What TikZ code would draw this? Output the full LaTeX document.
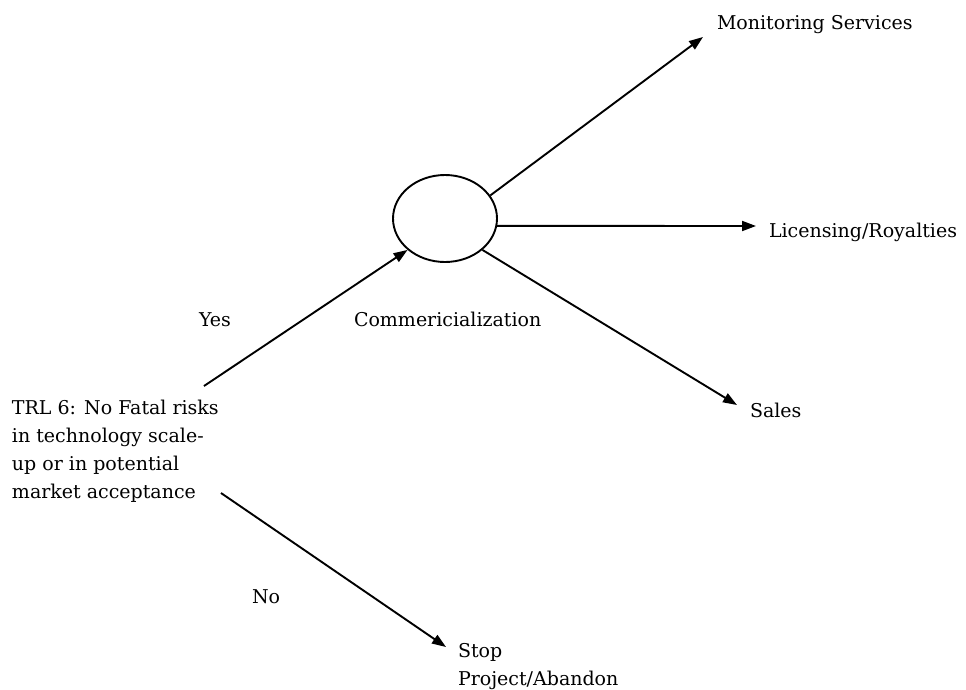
\documentclass[tikz,border=0pt]{standalone}
\usepackage{fontspec}
\setmainfont{DejaVu Serif}
\usetikzlibrary{arrows.meta,shapes.geometric}

\tikzset{
  label text/.style={anchor=base west, inner sep=0pt, outer sep=0pt, align=left,
    font=\fontsize{19}{27.7}\selectfont},
  conn/.style={line width=1.9pt, -{Triangle[length=14pt,width=10pt]}},
  decision/.style={ellipse, draw, line width=1.9pt, minimum width=104pt,
    minimum height=87pt, inner sep=0pt}
}

\begin{document}
\begin{tikzpicture}[x=1pt,y=-1pt]
  \useasboundingbox (0,0) rectangle (966,689);

  % decision node
  \node[decision] (c) at (445,218.5) {};

  % labels (multi-line labels are placed by the baseline of their last line)
  \node[label text] (mon)   at (717,29)  {Monitoring Services};
  \node[label text] (lic)   at (769,237) {Licensing/Royalties};
  \node[label text] (comm)  at (354,326) {Commericialization};
  \node[label text] (yes)   at (199,326) {Yes};
  \node[label text] (sales) at (750,417) {Sales};
  \node[label text] (trl)   at (12,498)  {TRL 6: No Fatal risks\\in technology scale-\\up or in potential\\market acceptance};
  \node[label text] (no)    at (252,603) {No};
  \node[label text] (stop)  at (458,685) {Stop\\Project/Abandon};

  % connector ends
  \coordinate (ys)    at (204,386);
  \coordinate (ns)    at (221,493);
  \coordinate (montip) at (703,37);
  \coordinate (lictip) at (756,226);
  \coordinate (saltip) at (737,405);
  \coordinate (stptip) at (446,647);

  % connectors
  \draw[conn] (ys) -- (c.220);
  \draw[conn] (c.27) -- (montip);
  \draw[conn] (c.-8) -- (lictip);
  \draw[conn] (c.-40) -- (saltip);
  \draw[conn] (ns) -- (stptip);
\end{tikzpicture}
\end{document}
